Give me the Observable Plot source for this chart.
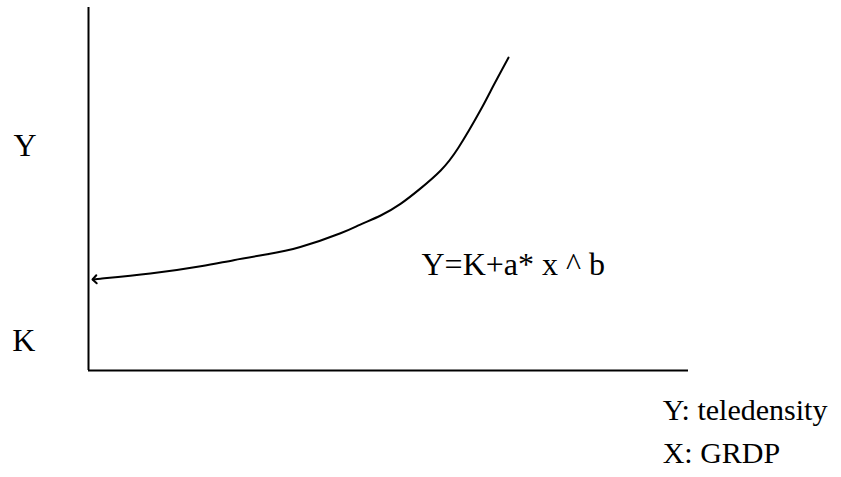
<!DOCTYPE html>
<html>
<head>
<meta charset="utf-8">
<script src="https://cdn.jsdelivr.net/npm/d3@7"></script>
<script src="https://cdn.jsdelivr.net/npm/@observablehq/plot@0.6"></script>
<style>
  html, body { margin: 0; padding: 0; background: #fff; }
  svg { display: block; }
</style>
</head>
<body>
<div id="chart"></div>
<script>
// Curve (x: GRDP, y: teledensity, schematic units 0-100)
const curveX = [1, 2, 10.3, 18.7, 24.2, 29.8, 35.3, 42.0, 45.3, 48.7, 52.0, 55.3, 58.7, 61.7, 65.3, 67.5, 70];
const curveY = [25.1, 25.3, 26.7, 28.7, 30.4, 32.0, 34.0, 37.8, 40.2, 42.7, 45.9, 50.1, 55.1, 61.5, 71.6, 78.5, 86.2];

// Axis-side labels
const sideLabels = ["Y", "K"];
const sideLabelX = [-12.5, -12.7];
const sideLabelY = [59.2, 5.5];

// Equation
const equationText = ["Y=K+a* x ^ b"];
const equationX = [55.5];
const equationY = [26.2];

// Legend notes
const noteTexts = ["Y: teledensity", "X: GRDP"];
const noteX = [95.7, 95.7];
const noteY = [-13.5, -25.6];

const curve = curveX.map((x, i) => ({x, y: curveY[i]}));
const sides = sideLabels.map((t, i) => ({t, x: sideLabelX[i], y: sideLabelY[i]}));
const eq = equationText.map((t, i) => ({t, x: equationX[i], y: equationY[i]}));
const notes = noteTexts.map((t, i) => ({t, x: noteX[i], y: noteY[i]}));

const font = "Liberation Serif, Times New Roman, serif";

const chart = Plot.plot({
  width: 841,
  height: 477,
  marginLeft: 88,
  marginRight: 153,
  marginTop: 7,
  marginBottom: 107,
  style: {background: "#fff", color: "#000"},
  x: {domain: [0, 100], axis: null},
  y: {domain: [0, 100], axis: null},
  marks: [
    Plot.ruleX([0], {stroke: "#000", strokeWidth: 2}),
    Plot.ruleY([0], {stroke: "#000", strokeWidth: 2}),
    Plot.line(curve, {x: "x", y: "y", stroke: "#000", strokeWidth: 2, curve: "natural", markerStart: "arrow"}),
    Plot.text(sides, {x: "x", y: "y", text: "t", textAnchor: "start", lineAnchor: "bottom", fontSize: 32, fontFamily: font, fill: "#000", clip: false}),
    Plot.text(eq, {x: "x", y: "y", text: "t", textAnchor: "start", lineAnchor: "bottom", fontSize: 32, fontFamily: font, fill: "#000", clip: false}),
    Plot.text(notes, {x: "x", y: "y", text: "t", textAnchor: "start", lineAnchor: "bottom", fontSize: 30, fontFamily: font, fill: "#000", clip: false})
  ]
});
document.getElementById("chart").appendChild(chart);
</script>
</body>
</html>
